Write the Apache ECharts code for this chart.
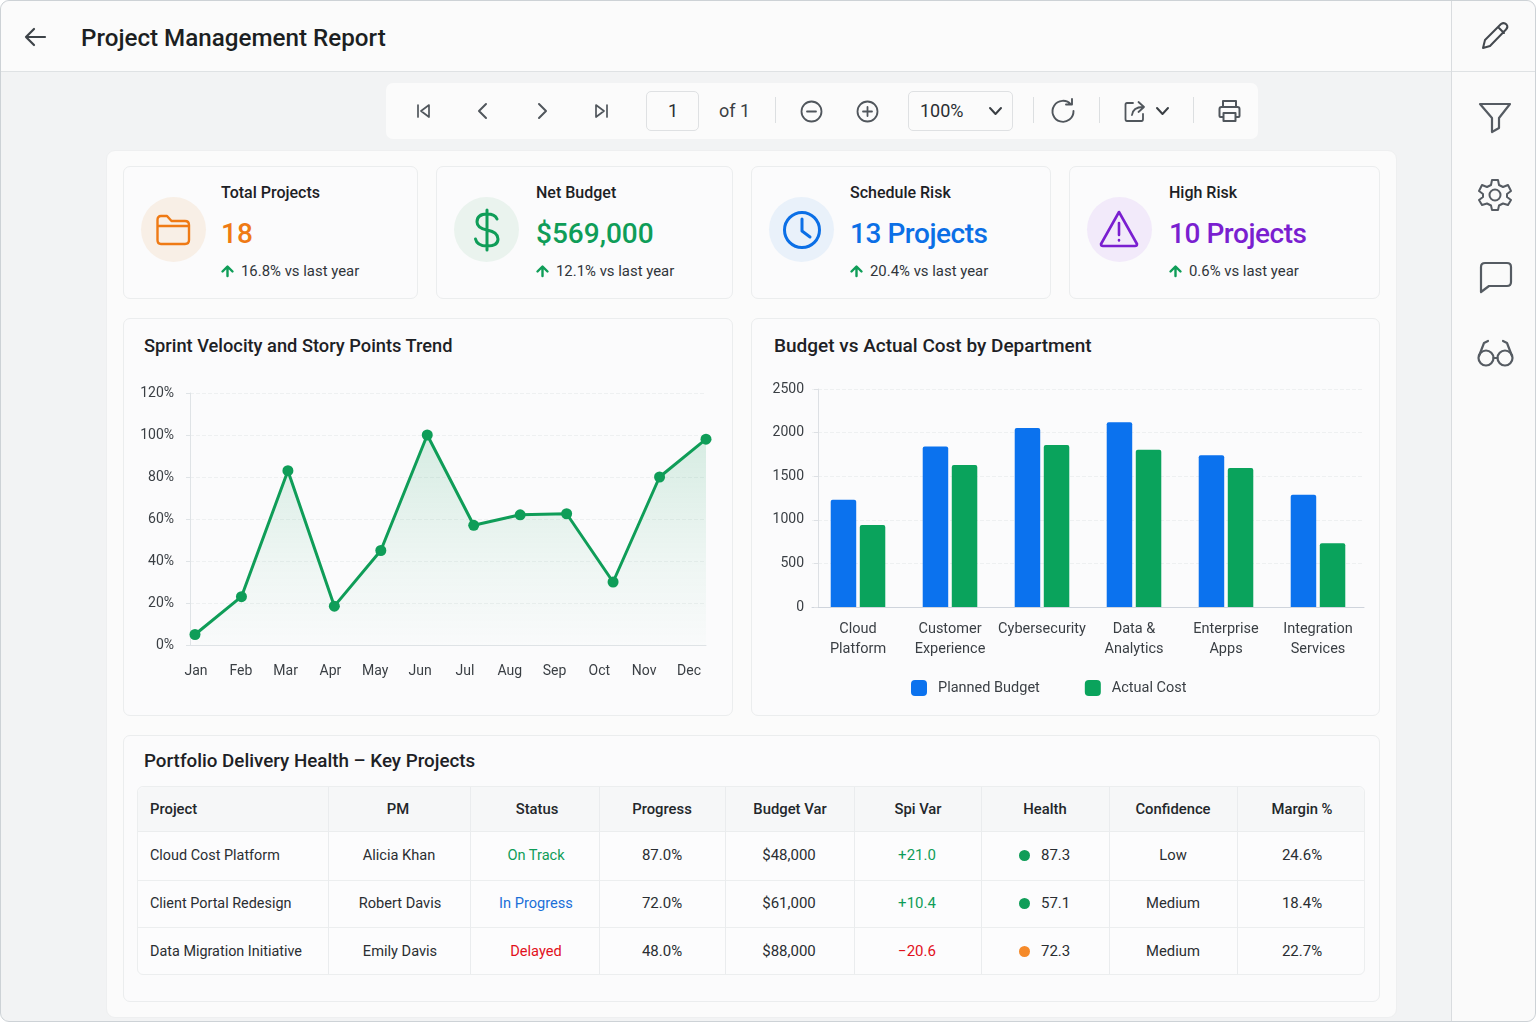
<!DOCTYPE html>
<html><head><meta charset="utf-8">
<script src="https://cdn.jsdelivr.net/npm/echarts@6/dist/echarts.min.js"></script>
<style>
html,body{margin:0;padding:0;background:#fff;width:1536px;height:1024px;overflow:hidden;font-family:Roboto,sans-serif;color:#22262a}
#frame{position:absolute;left:0;top:0;width:1536px;height:1022px;box-sizing:border-box;background:#f2f3f4;border:1px solid #cdd2d6;border-radius:9px;overflow:hidden}
.box{position:absolute;box-sizing:border-box}
.t{position:absolute;white-space:nowrap;line-height:1}
svg{position:absolute;overflow:visible;fill:none;stroke-linecap:round;stroke-linejoin:round}
#chart{position:absolute;left:0;top:0;width:1536px;height:1024px;pointer-events:none}
</style></head><body>
<div id="frame"></div><div id="ui"></div><div id="chart"></div>
<script>
// ---- data ----
const months = ['Jan','Feb','Mar','Apr','May','Jun','Jul','Aug','Sep','Oct','Nov','Dec'];
const velocity = [5,23,83,18.5,45,100,57,62,62.5,30,80,98];
const percentTicksMax = 120;
const departments = ['Cloud\nPlatform','Customer\nExperience','Cybersecurity','Data &\nAnalytics','Enterprise\nApps','Integration\nServices'];
const plannedBudget = [1230,1842,2053,2118,1739,1288];
const actualCost = [940,1628,1858,1804,1594,730];
const kpiTitles = ['Total Projects','Net Budget','Schedule Risk','High Risk'];
const kpiValues = ['18','$569,000','13 Projects','10 Projects'];
const kpiTrends = ['16.8% vs last year','12.1% vs last year','20.4% vs last year','0.6% vs last year'];
const tableHeader = ['Project','PM','Status','Progress','Budget Var','Spi Var','Health','Confidence','Margin %'];
const projects = ['Cloud Cost Platform','Client Portal Redesign','Data Migration Initiative'];
const managers = ['Alicia Khan','Robert Davis','Emily Davis'];
const statuses = ['On Track','In Progress','Delayed'];
const progress = ['87.0%','72.0%','48.0%'];
const budgetVar = ['$48,000','$61,000','$88,000'];
const spiVar = ['+21.0','+10.4','\u221220.6'];
const health = ['87.3','57.1','72.3'];
const confidence = ['Low','Medium','Medium'];
const margin = ['24.6%','18.4%','22.7%'];

// ---- page chrome ----
const GREEN='#0f9d58', BLUE='#0b72ee', TEXT='#22262a';
const ui=document.getElementById('ui');
function box(x,y,w,h,css){const d=document.createElement('div');d.className='box';d.style.cssText=`left:${x}px;top:${y}px;width:${w}px;height:${h}px;`+(css||'');ui.appendChild(d);return d;}
function txt(x,y,s,size,css,anchor){const d=document.createElement('div');d.className='t';d.textContent=s;
 const tx=anchor==='c'?'-50%':'0';
 d.style.cssText=`left:${x}px;top:${y}px;font-size:${size}px;transform:translate(${tx},-50%);`+(css||'');ui.appendChild(d);return d;}
function icon(x,y,w,h,inner,stroke,sw){const s=document.createElementNS('http://www.w3.org/2000/svg','svg');
 s.setAttribute('width',w);s.setAttribute('height',h);s.setAttribute('viewBox',`0 0 ${w} ${h}`);
 s.style.cssText=`left:${x}px;top:${y}px;stroke:${stroke};stroke-width:${sw};`;s.innerHTML=inner;ui.appendChild(s);}

// header, sidebar
box(1,1,1450,71,'background:#fbfbfb;border-bottom:1px solid #dfe2e4;border-top-left-radius:9px');
box(1451,1,84,1020,'background:#fafafa;border-left:1px solid #d9dcdf;border-top-right-radius:9px;border-bottom-right-radius:9px');
box(1452,71,83,1,'background:#dfe2e4');
txt(81,38,'Project Management Report',24.200,'font-weight:500;color:#1c1f22');
icon(24,27,24,20,'<path d="M21 10H2M10 2L2 10L10 18"/>','#3d4348',2.2);

const SI='#555b62';
icon(1481,21,28,29,'<path d="M2 27L4 19L20 3Q23 1 25.500 3.500Q27.500 6 25 8.500L9 25ZM17 6L23 12"/>','#43484e',2);
icon(1479,102,32,32,'<path d="M1 2H31L20 16V26L13 30V16Z"/>',SI,2.2);
icon(1478,178,34,34,'<circle cx="17" cy="17" r="5.500"/><path d="M14 2H20L21 7L25 9L30 7L33 13L29 16V19L33 22L30 27L25 25.500L21 27.500L20 32H14L13 27.500L9 25.500L4 27L1 22L5 19V16L1 13L4 7L9 9L13 7Z"/>',SI,2);
icon(1480,262,32,31,'<path d="M5 1H27Q31 1 31 5V20Q31 24 27 24H9L1 30V5Q1 1 5 1Z"/>',SI,2.2);
icon(1477,340,37,27,'<circle cx="9" cy="18" r="7.500"/><circle cx="28" cy="18" r="7.500"/><path d="M16.500 18H20.500M2 16L7 3L11 1M35 16L30 3L26 1"/>',SI,2.2);

// toolbar
box(386,83,872,56,'background:#fbfbfb;border-radius:7px');
box(646,91,53,40,'background:#fbfbfb;border:1px solid #dfe1e3;border-radius:5px');
box(908,91,105,40,'background:#fbfbfb;border:1px solid #dfe1e3;border-radius:5px');
txt(673,111,'1',18,'color:#2a2e32','c');
txt(719,111,'of 1',18,'color:#3a3f44');
txt(920,111,'100%',18,'color:#2a2e32');
[775,1033,1099,1193].forEach(x=>box(x,97,1,26,'background:#dcdfe1'));
const TI='#50565c';
icon(416,103,16,16,'<path d="M2 2V14M13 2L5 8L13 14Z"/>',TI,1.7);
icon(476,102,12,18,'<path d="M10 2L3 9L10 16"/>',TI,2);
icon(537,102,12,18,'<path d="M2 2L9 9L2 16"/>',TI,2);
icon(593,103,16,16,'<path d="M14 2V14M3 2L11 8L3 14Z"/>',TI,1.7);
icon(800,100,23,23,'<circle cx="11.500" cy="11.500" r="10"/><path d="M7 11.500H16"/>',TI,1.8);
icon(856,100,23,23,'<circle cx="11.500" cy="11.500" r="10"/><path d="M7 11.500H16M11.500 7V16"/>',TI,1.8);
icon(988,105,15,12,'<path d="M2 3L7.500 9L13 3"/>','#3a3f44',2);
icon(1051,99,24,24,'<path d="M20 5.500A10.500 10.500 0 1 0 22.500 12M15 5.500H21V0"/>',TI,1.9);
icon(1124,99,24,24,'<path d="M9 4H3Q1.500 4 1.500 5.500V20Q1.500 22 3 22H17.500Q19 22 19 20V15M8 16Q9 8 19 8M14.500 3L20 8L14.500 13"/>',TI,1.8);
icon(1155,106,15,11,'<path d="M2 2L7.500 8L13 2"/>','#3a3f44',2);
icon(1218,99,23,24,'<path d="M5 8V2H18V8M5 18H2.500Q1.500 18 1.500 17V10Q1.500 8 3.500 8H19.500Q21.500 8 21.500 10V17Q21.500 18 20.500 18H18"/><rect x="5.500" y="14" width="12" height="8"/>',TI,2);

// main panel
const CARD='background:#fbfbfc;border:1px solid #ebedee;border-radius:7px;';
box(106,150,1291,868,'background:#fbfbfb;border:1px solid #eeeff0;border-radius:9px');

// kpi cards
const kpi=[
 {x:123,w:295,cx:173,tx:221,bg:'#f8efe6',c:'#ef7a14'},
 {x:436,w:297,cx:486.500,tx:536,bg:'#eaf3ee',c:'#0f9d58'},
 {x:751,w:300,cx:801,tx:850,bg:'#e9f1fa',c:'#0b6fe6'},
 {x:1069,w:311,cx:1119,tx:1169,bg:'#f2eafa',c:'#7a1fd0'}];
const kpiIcons=[
 [156,214,36,33,'<path d="M1.500 6Q1.500 2 5 2H11L15.500 7H29Q33 7 33 11V26Q33 30 29 30H5Q1.500 30 1.500 26Z M1.500 12H33"/>',2.4],
 [473,208,28,44,'<path d="M14 2V42M24 11Q22 6 14 6Q4 6 4 14Q4 20 14 22Q25 24 25 31Q25 38 14 38Q4 38 2.500 31"/>',3],
 [782,210,40,40,'<circle cx="20" cy="20" r="17.500"/><path d="M20 9V21L28 27"/>',3],
 [1099,210,40,38,'<path d="M20 2L38 34Q38 36 36 36H4Q2 36 2 34ZM20 13V25M20 30V30.500"/>',2.6]];
kpi.forEach((k,i)=>{
 box(k.x,166,k.w,133,CARD);
 box(k.cx-32.500,197,65,65,`background:${k.bg};border-radius:50%`);
 const ic=kpiIcons[i]; icon(ic[0],ic[1],ic[2],ic[3],ic[4],k.c,ic[5]);
 txt(k.tx,192.500,kpiTitles[i],16,'font-weight:500;color:#1d2125');
 txt(k.tx,i<2?234:234,kpiValues[i],28,`font-weight:500;color:${k.c};`+(i>1?'letter-spacing:-0.45px':''));
 icon(k.tx,265,13,12,'<path d="M6.500 11V2M1.500 6.500L6.500 1.500L11.500 6.500"/>',GREEN,2.4);
 txt(k.tx+20,271,kpiTrends[i],14.900,'color:#30353a');
});

// chart cards
box(123,318,610,398,CARD); box(751,318,629,398,CARD);
txt(144,346,'Sprint Velocity and Story Points Trend',18.250,'font-weight:500;color:#1d2125');
txt(774,345,'Budget vs Actual Cost by Department',19,'font-weight:500;color:#1d2125');

// table
box(123,735,1257,267,CARD);
txt(144,760.500,'Portfolio Delivery Health \u2013 Key Projects',18.800,'font-weight:500;color:#1d2125');
box(137,786,1228,189,'background:#fcfcfd;border:1px solid #eceeef;border-radius:6px');
box(138,787,1226,45,'background:#f6f7f8;border-bottom:1px solid #ebedee;border-radius:6px 6px 0 0');
box(138,880,1226,1,'background:#eceeef'); box(138,927,1226,1,'background:#eceeef');
[328,470,599,725,854,981,1109,1237].forEach(x=>box(x,787,1,187,'background:#eaecee'));
const headCx=[150,398,537,662,790,918,1045,1173,1302];
tableHeader.forEach((h,i)=>txt(headCx[i],809,h,14.800,'font-weight:500;color:#23272b',i?'c':'l'));
const rowY=[855,903,951];
const statusCol=['#0f9d58','#1a6fd8','#e2101c'];
const spiCol=['#0f9d58','#0f9d58','#e2101c'];
const dotCol=['#0f9d58','#0f9d58','#f58a2a'];
const B='color:#2a2e32';
rowY.forEach((y,r)=>{
 txt(150,y+1,projects[r],14.400,B);
 txt(r?400:399,y,managers[r],14.600,B,'c');
 txt(536,y,statuses[r],14.600,`color:${statusCol[r]}`,'c');
 txt(662,y,progress[r],15,B,'c');
 txt(789,y,budgetVar[r],15,B,'c');
 txt(917,y,spiVar[r],15,`color:${spiCol[r]}`,'c');
 box(1018.500,y-5.500,11,11,`background:${dotCol[r]};border-radius:50%`);
 txt(1041,y,health[r],15,B);
 txt(1173,y,confidence[r],14.800,B,'c');
 txt(1302,y,margin[r],15,B,'c');
});

// ---- charts ----
const LBL={fontFamily:'Roboto',fontSize:14.500,color:'#3a3f44'};
const LBL14=Object.assign({},LBL,{fontSize:14});
const LINEC='#dfe3e6', SPLIT='#eef0f1';
const chart=echarts.init(document.getElementById('chart'),null,{width:1536,height:1024});
const hiddenCat=(g,d)=>({type:'category',gridIndex:g,data:d,axisLabel:{show:false},axisTick:{show:false},axisLine:{show:false}});
chart.setOption({
 animation:false,
 grid:[
  {left:195,top:393,width:511,height:252},     // line series plot
  {left:173.600,top:393,width:537.800,height:252}, // month labels
  {left:190,top:393,width:516,height:252},     // frame and gridlines
  {left:812,top:389,width:552,height:218}      // bars
 ],
 xAxis:[
  Object.assign(hiddenCat(0,months),{boundaryGap:false}),
  {type:'category',gridIndex:1,data:months,axisLine:{show:false},axisTick:{show:false},
   axisLabel:Object.assign({margin:19,interval:0},LBL14)},
  {type:'category',gridIndex:2,data:months,axisLabel:{show:false},axisTick:{show:false},
   axisLine:{show:true,lineStyle:{color:LINEC}}},
  {type:'category',gridIndex:3,data:departments,axisTick:{show:false},
   axisLine:{show:true,lineStyle:{color:'#cfd4dc'}},
   axisLabel:Object.assign({margin:12,interval:0,lineHeight:20},LBL)}
 ],
 yAxis:[
  {type:'value',gridIndex:0,min:0,max:percentTicksMax,show:false},
  {type:'value',gridIndex:1,min:0,max:percentTicksMax,show:false},
  {type:'value',gridIndex:2,min:0,max:percentTicksMax,interval:20,
   axisLine:{show:true,lineStyle:{color:LINEC}},axisTick:{show:true,length:4,lineStyle:{color:LINEC}},
   splitLine:{show:true,lineStyle:{color:SPLIT,type:'dashed'}},
   axisLabel:Object.assign({margin:16,formatter:'{value}%'},LBL14)},
  {type:'value',gridIndex:3,min:0,max:2500,interval:500,offset:-6,
   axisLine:{show:true,lineStyle:{color:'#dde0e4'}},axisTick:{show:true,length:4,lineStyle:{color:'#dde0e4'}},
   splitLine:{show:true,lineStyle:{color:SPLIT,type:'dashed'}},
   axisLabel:Object.assign({margin:14,formatter:v=>String(v)},LBL14)}
 ],
 legend:{left:911,top:680,padding:0,itemWidth:16,itemHeight:16,itemGap:45,icon:'roundRect',
  textStyle:Object.assign({},LBL,{padding:[0,0,0,6]}),data:['Planned Budget','Actual Cost']},
 series:[
  {type:'line',name:'Velocity',xAxisIndex:0,yAxisIndex:0,data:velocity,clip:false,symbol:'circle',symbolSize:11,
   itemStyle:{color:GREEN},lineStyle:{color:GREEN,width:3},
   areaStyle:{color:new echarts.graphic.LinearGradient(0,0,0,1,[{offset:0,color:'rgba(15,157,88,0.22)'},{offset:0.6,color:'rgba(15,157,88,0.08)'},{offset:1,color:'rgba(15,157,88,0.01)'}])}},
  {type:'bar',name:'Planned Budget',xAxisIndex:3,yAxisIndex:3,data:plannedBudget,barWidth:25.500,barGap:'14%',
   itemStyle:{color:BLUE,borderRadius:[2,2,0,0]}},
  {type:'bar',name:'Actual Cost',xAxisIndex:3,yAxisIndex:3,data:actualCost,barWidth:25.500,barGap:'14%',
   itemStyle:{color:'#0aa35c',borderRadius:[2,2,0,0]}}
 ]
});
</script>
</body></html>
